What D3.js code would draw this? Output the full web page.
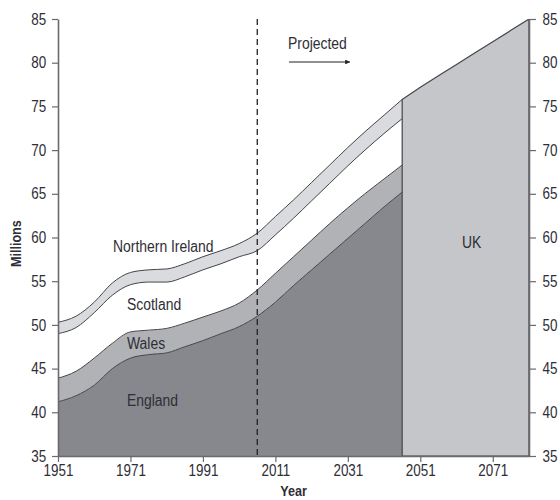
<!DOCTYPE html>
<html>
<head>
<meta charset="utf-8">
<script src="https://cdn.jsdelivr.net/npm/d3@7/dist/d3.min.js"></script>
<style>
  body { margin: 0; background: #fff; }
  text { font-family: "Liberation Sans", Arial, sans-serif; fill: #2e2e36; }
</style>
</head>
<body>
<svg id="chart" width="560" height="500"></svg>
<script>
// Population (millions) by country, stacked; 2006 onwards projected
const years = [1951, 1956, 1961, 1966, 1971, 1976, 1981, 1986, 1991, 1996, 2001,
               2006, 2011, 2016, 2021, 2026, 2031, 2036, 2041, 2046];
const england  = [41.2, 41.9, 43.1, 45.0, 46.2, 46.6, 46.8, 47.5, 48.2, 49.0, 49.8,
                  51.0, 52.6, 54.5, 56.3, 58.1, 59.9, 61.7, 63.5, 65.2];
const wales    = [2.7, 2.8, 3.1, 2.9, 3.0, 2.8, 2.8, 2.7, 2.7, 2.6, 2.7,
                  3.0, 3.3, 3.3, 3.4, 3.5, 3.5, 3.4, 3.2, 3.1];
const scotland = [5.1, 5.0, 5.2, 5.5, 5.4, 5.5, 5.3, 5.3, 5.4, 5.4, 5.3,
                  4.5, 4.4, 4.4, 4.5, 4.6, 4.8, 5.0, 5.2, 5.3];
const northernIreland = [1.3, 1.3, 1.2, 1.4, 1.4, 1.4, 1.5, 1.5, 1.5, 1.5, 1.5,
                  2.0, 2.1, 2.1, 2.1, 2.1, 2.1, 2.1, 2.1, 2.2];

// UK total only, long-term projection
const ukYears = [2046, 2051, 2056, 2061, 2066, 2071, 2076, 2081];
const ukTotal = [75.8, 77.2, 78.5, 79.8, 81.1, 82.4, 83.7, 85.0];

const yTicks = [35, 40, 45, 50, 55, 60, 65, 70, 75, 80, 85];
const xTicks = [1951, 1971, 1991, 2011, 2031, 2051, 2071];
const projectionStart = 2006;

const keys = ['england', 'wales', 'scotland', 'northernIreland'];
const fills = { england: '#86888d', wales: '#b0b2b6', scotland: '#ffffff', northernIreland: '#d9dbde' };

const rows = years.map((yr, i) => ({
    year: yr,
    england: england[i],
    wales: wales[i],
    scotland: scotland[i],
    northernIreland: northernIreland[i]
}));

const svg = d3.select('#chart');
const margin = { left: 58, right: 31, top: 19, bottom: 44 };
const width = 560 - margin.left - margin.right;
const height = 500 - margin.top - margin.bottom;

// the reference uses a condensed face; squeeze the installed sans instead
const narrow = 'scale(0.84,1)';

const x = d3.scaleLinear().domain([1951, 2081]).range([margin.left, margin.left + width]);
const y = d3.scaleLinear().domain([35, 85]).range([margin.top + height, margin.top]);

svg.append('defs').append('clipPath')
    .attr('id', 'plot-clip')
    .append('rect')
    .attr('x', margin.left)
    .attr('y', margin.top)
    .attr('width', width)
    .attr('height', height);

const plot = svg.append('g').attr('clip-path', 'url(#plot-clip)');

const series = d3.stack().keys(keys)(rows);

const area = d3.area()
    .curve(d3.curveMonotoneX)
    .x(d => x(d.data.year))
    .y0(d => y(d[0]))
    .y1(d => y(d[1]));

const topLine = d3.line()
    .curve(d3.curveMonotoneX)
    .x(d => x(d.data.year))
    .y(d => y(d[1]));

// country bands
plot.selectAll('path.band')
    .data(series)
    .join('path')
    .attr('class', 'band')
    .attr('d', area)
    .style('fill', d => fills[d.key]);

plot.selectAll('path.edge')
    .data(series)
    .join('path')
    .attr('class', 'edge')
    .attr('d', topLine)
    .style('fill', 'none')
    .style('stroke', '#454549')
    .style('stroke-width', 1);

// UK projection block
const ukRows = ukYears.map((yr, i) => ({ year: yr, value: ukTotal[i] }));
plot.append('path')
    .datum(ukRows)
    .attr('d', d3.area()
        .x(d => x(d.year))
        .y0(y(35))
        .y1(d => y(d.value)))
    .style('fill', '#c4c6ca')
    .style('stroke', '#454549')
    .style('stroke-width', 1.2);

// projection start marker
svg.append('line')
    .attr('x1', x(projectionStart)).attr('x2', x(projectionStart))
    .attr('y1', y(85)).attr('y2', y(35))
    .style('stroke', '#222')
    .style('stroke-width', 1.3)
    .style('stroke-dasharray', '6,4');

// axes
const axisStyle = g => {
    g.select('.domain').style('stroke', '#6a6a6e').style('stroke-width', 1.6);
    g.selectAll('.tick line').style('stroke', '#6a6a6e').style('stroke-width', 1.2);
    g.selectAll('.tick text')
        .style('font-size', '16px')
        .style('fill', '#2e2e36')
        .attr('transform', narrow);
};

svg.append('g')
    .attr('transform', `translate(0,${y(35)})`)
    .call(d3.axisBottom(x).tickValues(xTicks).tickFormat(d3.format('d')).tickSize(6).tickSizeOuter(0).tickPadding(3))
    .call(axisStyle);

svg.append('g')
    .attr('transform', `translate(${margin.left},0)`)
    .call(d3.axisLeft(y).tickValues(yTicks).tickSize(6).tickSizeOuter(0).tickPadding(8))
    .call(axisStyle);

svg.append('g')
    .attr('transform', `translate(${margin.left + width},0)`)
    .call(d3.axisRight(y).tickValues(yTicks).tickSize(7).tickSizeOuter(0).tickPadding(9))
    .call(axisStyle);

// axis titles
svg.append('text')
    .attr('transform', `translate(21,${y(59.3)}) rotate(-90) ${narrow}`)
    .attr('text-anchor', 'middle')
    .style('font-size', '15px')
    .style('font-weight', 'bold')
    .text('Millions');

svg.append('text')
    .attr('transform', `translate(${margin.left + width / 2},496) ${narrow}`)
    .attr('text-anchor', 'middle')
    .style('font-size', '15px')
    .style('font-weight', 'bold')
    .text('Year');

// band labels
const labels = [
    { text: 'Northern Ireland', px: 113, py: 252 },
    { text: 'Scotland', px: 127, py: 310 },
    { text: 'Wales', px: 127, py: 349 },
    { text: 'England', px: 127, py: 406 },
    { text: 'UK', px: 462, py: 248 }
];
svg.selectAll('text.label')
    .data(labels)
    .join('text')
    .attr('class', 'label')
    .attr('transform', d => `translate(${d.px},${d.py}) scale(0.87,1)`)
    .style('font-size', '16px')
    .text(d => d.text);

// projected note
svg.append('defs').append('marker')
    .attr('id', 'arrow')
    .attr('viewBox', '0 0 10 10')
    .attr('refX', 10).attr('refY', 5)
    .attr('markerWidth', 8).attr('markerHeight', 4)
    .attr('orient', 'auto')
    .append('path')
    .attr('d', 'M0,0L10,5L0,10Z')
    .style('fill', '#222');

svg.append('text')
    .attr('transform', `translate(288,49) scale(0.87,1)`)
    .style('font-size', '16px')
    .text('Projected');

svg.append('line')
    .attr('x1', 289).attr('x2', 350)
    .attr('y1', 62).attr('y2', 62)
    .style('stroke', '#222')
    .style('stroke-width', 1.2)
    .attr('marker-end', 'url(#arrow)');
</script>
</body>
</html>
